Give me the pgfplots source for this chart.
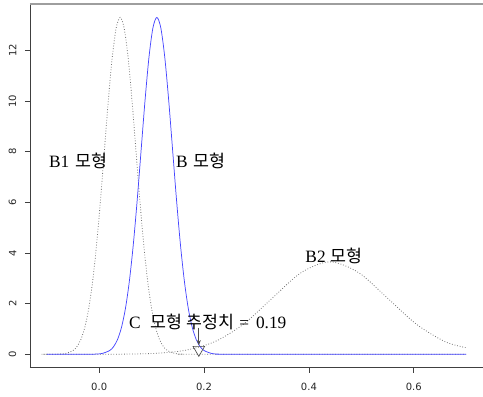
\documentclass[border=0pt]{standalone}
\usepackage{fontspec}
\setmainfont{Liberation Serif}
\newfontfamily\kr{Noto Sans CJK KR}
\newfontfamily\tickfont{DejaVu Sans}
\usepackage{pgfplots}
\pgfplotsset{compat=1.18}
\usetikzlibrary{arrows.meta}
\definecolor{rblue}{RGB}{70,70,255}
\begin{document}
\begin{tikzpicture}
\begin{axis}[
 scale only axis, width=340pt, height=273pt,
 xmin=-0.132, xmax=0.732, ymin=-0.532, ymax=13.83,
 axis lines=left, axis line style={-, draw=black!75, line width=0.6pt},
 clip=false,
 tick align=outside, major tick length=3.75pt,
 tick style={black!75, line width=0.6pt},
 xtick={0,0.2,0.4,0.6}, ytick={0,2,4,6,8,10,12},
 xticklabel style={/pgf/number format/fixed, /pgf/number format/precision=1, /pgf/number format/fixed zerofill},
 xticklabel shift=4pt,
 yticklabel style={rotate=90, anchor=south},
 yticklabel shift=3pt,
 /pgf/number format/assume math mode=true,
 ticklabel style={font=\tickfont\fontsize{7.5}{9}\selectfont, text=black!85},
]
% B1 model (dotted)
\addplot[black!55, line width=0.6pt, dash pattern=on 0.6pt off 1.4pt, smooth] coordinates {
(-0.1,0) (-0.11,0) (-0.08,0.0045) (-0.065,0.029) (-0.05,0.148) (-0.0425,0.303) (-0.035,0.584)
(-0.0275,1.06) (-0.02,1.80) (-0.0125,2.88) (-0.005,4.32) (0.0025,6.09) (0.01,8.07)
(0.0175,10.04) (0.025,11.74) (0.0325,12.89) (0.04,13.30) (0.0475,12.89) (0.055,11.74)
(0.0625,10.04) (0.07,8.07) (0.0775,6.09) (0.085,4.32) (0.0925,2.88) (0.1,1.80)
(0.1075,1.06) (0.115,0.584) (0.1225,0.303) (0.13,0.148) (0.145,0.029) (0.16,0.0045)
(0.19,0) (0.7,0)};
% B2 model (dotted)
\addplot[black!55, line width=0.6pt, dash pattern=on 0.6pt off 1.4pt, smooth] coordinates {
(-0.1,0) (0.0,0.0012) (0.055,0.008) (0.11,0.0405) (0.165,0.160) (0.22,0.494)
(0.275,1.185) (0.33,2.214) (0.385,3.221) (0.44,3.65) (0.495,3.221) (0.55,2.214)
(0.605,1.185) (0.66,0.494) (0.7,0.26)};
% B model (blue)
\addplot[rblue, line width=0.55pt, smooth] coordinates {
(-0.1,0) (-0.04,0) (-0.01,0.0045) (0.005,0.029) (0.02,0.148) (0.0275,0.303) (0.035,0.584)
(0.0425,1.06) (0.05,1.80) (0.0575,2.88) (0.065,4.32) (0.0725,6.09) (0.08,8.07)
(0.0875,10.04) (0.095,11.74) (0.1025,12.89) (0.11,13.30) (0.1175,12.89) (0.125,11.74)
(0.1325,10.04) (0.14,8.07) (0.1475,6.09) (0.155,4.32) (0.1625,2.88) (0.17,1.80)
(0.1775,1.06) (0.185,0.584) (0.1925,0.303) (0.2,0.148) (0.215,0.029) (0.23,0.0045)
(0.26,0) (0.7,0)};
% C estimate
\addplot[black!70, line width=0.5pt, -{Stealth[length=4pt,width=3pt]}] coordinates {(0.19,1.05) (0.19,0.35)};
\addplot[only marks, mark=triangle, mark size=5pt, black!70, line width=0.5pt,
  every mark/.append style={rotate=180}] coordinates {(0.19,0.18)};
\node[font=\fontsize{13}{15}\selectfont] at (axis cs:-0.040,7.64) {B1\hspace{0.35em}{\kr 모형}};
\node[font=\fontsize{13}{15}\selectfont] at (axis cs:0.194,7.65) {B\hspace{0.35em}{\kr 모형}};
\node[font=\fontsize{13}{15}\selectfont] at (axis cs:0.448,3.9) {B2\hspace{0.3em}{\kr 모형}};
\node[font=\fontsize{13}{15}\selectfont] at (axis cs:0.207,1.26) {C\hspace{0.55em}{\kr 모형}\hspace{0.25em}{\kr 추정치}\hspace{0.3em}=\hspace{0.4em}0.19};
\draw[black!38, line width=1.2pt] (rel axis cs:0,1) -- (rel axis cs:1,1);
\end{axis}
\pgfresetboundingbox
\path (current axis.south west) ++(-22.5pt,-21.75pt) rectangle ([yshift=3pt]current axis.north east);
\end{tikzpicture}
\end{document}
